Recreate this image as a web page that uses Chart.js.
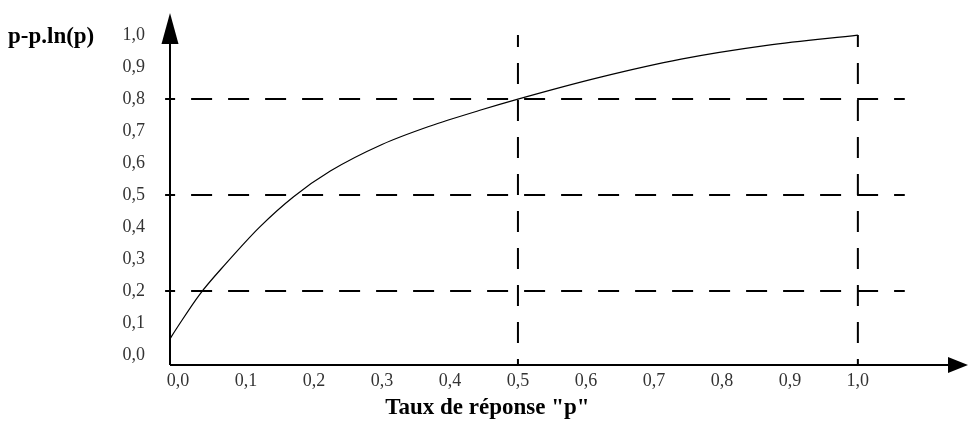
<!DOCTYPE html>
<html>
<head>
<meta charset="utf-8">
<script src="https://cdn.jsdelivr.net/npm/chart.js@4"></script>
<style>
  html, body { margin: 0; padding: 0; background: #fff; }
  #wrap { width: 968px; height: 424px; position: relative; }
</style>
</head>
<body>
<div id="wrap"><canvas id="c" width="968" height="424"></canvas></div>
<script>
// ---- data ----
const pValues     = [-0.015, 0.0, 0.032, 0.07, 0.12, 0.17, 0.224, 0.30, 0.37, 0.444, 0.5, 0.62, 0.74, 0.866, 1.0];
const curveValues = [0.04, 0.09, 0.19, 0.285, 0.40, 0.495, 0.575, 0.658, 0.715, 0.765, 0.80, 0.868, 0.925, 0.968, 1.0];
const xTickValues = [0, 0.1, 0.2, 0.3, 0.4, 0.5, 0.6, 0.7, 0.8, 0.9, 1.0];
const xTickLabels = ['0,0','0,1','0,2','0,3','0,4','0,5','0,6','0,7','0,8','0,9','1,0'];
const yTickValues = [0, 0.1, 0.2, 0.3, 0.4, 0.5, 0.6, 0.7, 0.8, 0.9, 1.0];
const yTickLabels = ['0,0','0,1','0,2','0,3','0,4','0,5','0,6','0,7','0,8','0,9','1,0'];
const hRefValues  = [0.2, 0.5, 0.8];   // horizontal dashed reference lines
const vRefValues  = [0.5, 1.0];        // vertical dashed reference lines
const xTitle = 'Taux de réponse "p"';
const yTitle = 'p-p.ln(p)';

// axis ranges
const xMin = -0.0118, xMax = 1.162, yMin = -0.031, yMax = 1.069;
const hRefStart = -0.019, hRefEnd = 1.069;

const SERIF = '"Liberation Serif", "DejaVu Serif", serif';

const datasets = [{
  data: pValues.map((p, i) => ({ x: p, y: curveValues[i] })),
  borderColor: '#000', borderWidth: 1.2, pointRadius: 0,
  cubicInterpolationMode: 'monotone', fill: false
}];
hRefValues.forEach(v => datasets.push({
  data: [{ x: hRefStart, y: v }, { x: hRefEnd, y: v }],
  borderColor: '#000', borderWidth: 2, borderDash: [21, 16], borderDashOffset: 11,
  pointRadius: 0, clip: false
}));
vRefValues.forEach(v => datasets.push({
  data: [{ x: v, y: 1.0 }, { x: v, y: yMin }],
  borderColor: '#000', borderWidth: 2, borderDash: [21, 16], borderDashOffset: 9,
  pointRadius: 0, clip: false
}));

const axesPlugin = {
  id: 'axesArrows',
  afterDraw(chart) {
    const ctx = chart.ctx, xs = chart.scales.x, ys = chart.scales.y;
    const x0 = xs.getPixelForValue(xMin), y0 = ys.getPixelForValue(yMin);
    const xEnd = xs.getPixelForValue(xMax), yTop = ys.getPixelForValue(yMax);
    ctx.save();
    ctx.strokeStyle = '#000'; ctx.fillStyle = '#000'; ctx.lineWidth = 2;
    ctx.setLineDash([]);
    ctx.beginPath();
    ctx.moveTo(x0, y0); ctx.lineTo(x0, yTop + 20);
    ctx.moveTo(x0, y0); ctx.lineTo(xEnd - 16, y0);
    ctx.stroke();
    // y arrow
    ctx.beginPath();
    ctx.moveTo(x0, yTop); ctx.lineTo(x0 - 8.5, yTop + 31); ctx.lineTo(x0 + 8.5, yTop + 31); ctx.closePath(); ctx.fill();
    // x arrow
    ctx.beginPath();
    ctx.moveTo(xEnd, y0); ctx.lineTo(xEnd - 20, y0 - 8); ctx.lineTo(xEnd - 20, y0 + 8); ctx.closePath(); ctx.fill();
    // titles
    ctx.font = 'bold 23px ' + SERIF;
    ctx.textBaseline = 'middle';
    ctx.textAlign = 'left';
    ctx.fillText(yTitle, 8, ys.getPixelForValue(1.0) + 2);
    ctx.textAlign = 'center';
    ctx.fillText(xTitle, xs.getPixelForValue(0.455), y0 + 43);
    ctx.restore();
  }
};

new Chart(document.getElementById('c'), {
  type: 'line',
  data: { datasets },
  options: {
    responsive: false, animation: false,
    layout: { padding: { top: 13, right: 0, left: 0, bottom: 0 } },
    plugins: { legend: { display: false }, tooltip: { enabled: false }, title: { display: false } },
    scales: {
      x: {
        type: 'linear', min: xMin, max: xMax,
        grid: { display: false, drawTicks: false }, border: { display: false },
        afterBuildTicks: s => { s.ticks = xTickValues.map(v => ({ value: v })); },
        afterFit: s => { s.height = 59; s.paddingLeft = 0; s.paddingRight = 0; },
        ticks: {
          autoSkip: false, maxRotation: 0, padding: 5, color: '#333',
          font: { family: SERIF, size: 18 },
          callback: (v, i) => xTickLabels[i]
        }
      },
      y: {
        type: 'linear', min: yMin, max: yMax,
        grid: { display: false, drawTicks: false }, border: { display: false },
        afterBuildTicks: s => { s.ticks = yTickValues.map(v => ({ value: v })); },
        afterFit: s => { s.width = 170; s.paddingTop = 0; s.paddingBottom = 0; },
        ticks: {
          autoSkip: false, padding: 25, color: '#333',
          font: { family: SERIF, size: 18 },
          callback: (v, i) => yTickLabels[i]
        }
      }
    }
  },
  plugins: [axesPlugin]
});
</script>
</body>
</html>
